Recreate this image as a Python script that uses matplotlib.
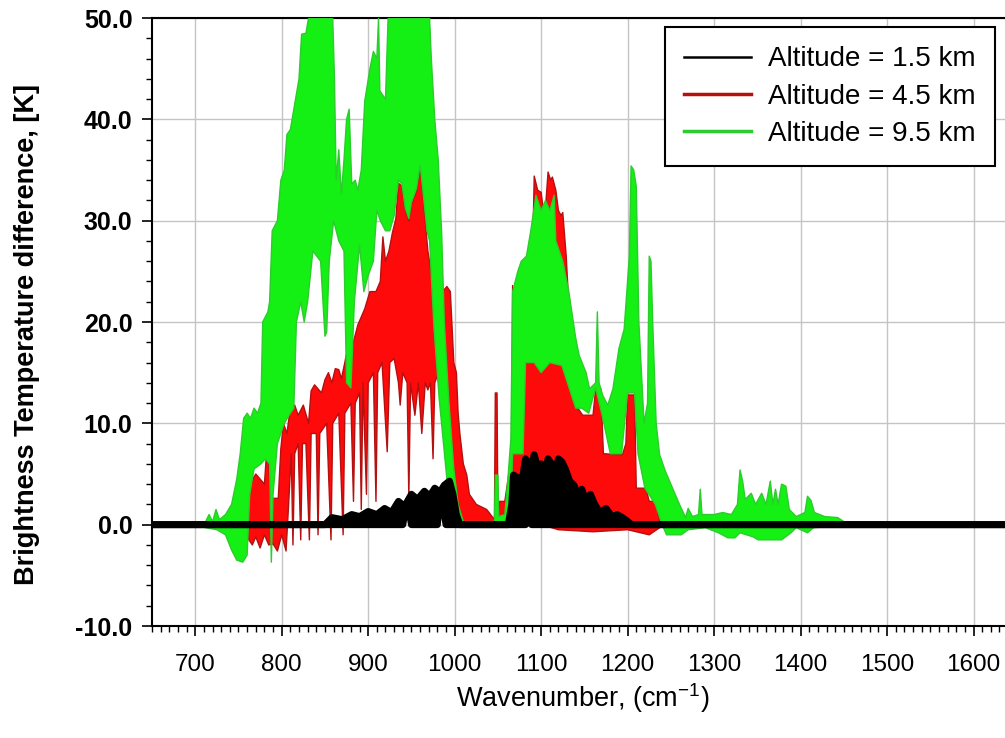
import matplotlib.pyplot as plt
from matplotlib.ticker import MultipleLocator, FormatStrFormatter

plt.rcParams['font.family'] = ['Liberation Sans', 'DejaVu Sans']
plt.rcParams['mathtext.default'] = 'regular'

# ---- data (wavenumber cm-1, BT difference K) ----
# each series drawn as the band between its upper and lower envelope
green_hi_wn = [712, 716, 720, 724, 728, 735, 742, 748, 752, 756, 760, 764, 768, 772, 776, 778, 784, 786,
               789, 795, 799, 803, 806, 810, 815, 820, 823, 828, 831, 859, 861, 863, 866, 869, 872, 875,
               878, 881, 885, 888, 892, 896, 902, 906, 910, 912, 913.5, 920, 923, 971, 973, 977, 981, 985,
               988, 993, 999, 1004, 1010, 1046, 1047, 1050, 1051, 1058, 1062, 1065, 1067, 1070, 1073,
               1077, 1083, 1088, 1094, 1100, 1105, 1110, 1115, 1117, 1125, 1132, 1140, 1144, 1152, 1156,
               1163, 1165, 1167, 1171, 1177, 1183, 1190, 1196, 1202, 1204, 1207, 1210, 1213, 1219, 1223,
               1225, 1227, 1229, 1233, 1237, 1244, 1252, 1260, 1267, 1270, 1275, 1282, 1284, 1286, 1300,
               1310, 1320, 1327, 1330, 1333, 1336, 1343, 1348, 1355, 1360, 1365, 1368, 1371, 1374, 1378,
               1383, 1387, 1395, 1405, 1408, 1412, 1416, 1428, 1443, 1450]
green_hi = [0.3, 1.0, 0.3, 1.5, 0.5, 1.0, 2.0, 4.5, 7.0, 10.5, 11.0, 10.5, 11.5, 11.0, 12.0, 20.0, 21.0, 22.0,
            29.0, 30.0, 34.0, 35.0, 38.5, 39.0, 41.5, 44.0, 48.4, 48.5, 50, 50, 44, 34, 37, 32.6, 36, 40,
            41, 33.6, 34, 33, 35, 41.8, 45, 46.7, 46, 50, 42.8, 42, 50, 50, 46, 40, 36, 28.7,
            20, 12.5, 5.5, 2.0, 0.3, 0.3, 4.9, 4.9, 0.8, 1.0, 5.0, 8.5, 23, 24, 25,
            26, 26.5, 29, 32.5, 31, 32, 31, 32.5, 28, 26, 23, 18.4, 16.7, 15, 13.4,
            14, 21, 14, 12.8, 11.8, 13.4, 17.4, 19.3, 26.5, 35.4, 35, 33.4, 20, 10, 12,
            26.5, 26, 20, 10, 6.9, 5.2, 3.6, 2.0, 0.7, 1.6, 0.8, 1.0, 3.5, 1.0, 1.0,
            1.2, 1.0, 2.0, 5.4, 4.3, 2.5, 3.1, 2.0, 3.1, 2.0, 4.3, 2.0, 3.5, 2.0, 4.0,
            3.8, 1.5, 0.8, 1.2, 2.8, 2.4, 1.2, 0.8, 0.7, 0.3]
green_lo_wn = [712, 725, 735, 742, 748, 755, 760, 763, 768, 776, 781, 786, 788, 790, 795, 803, 810, 814, 817,
               822, 826, 830, 836, 845, 850, 852, 855, 860, 866, 872, 875, 880, 884, 890, 895, 900, 906,
               910, 914, 920, 925, 930, 935, 939, 943, 947, 950, 956, 960, 963, 968, 971, 976, 982, 988,
               993, 999, 1010, 1046, 1051, 1060, 1065, 1067, 1079, 1082, 1092, 1100, 1110, 1124, 1140,
               1147, 1155, 1163, 1170, 1180, 1193, 1200, 1208, 1212, 1220, 1232, 1240, 1245, 1262, 1270,
               1290, 1305, 1316, 1324, 1330, 1345, 1351, 1378, 1389, 1395, 1408, 1415, 1450]
green_lo = [-0.3, -0.5, -1.0, -2.5, -3.5, -3.7, -3.0, 3.0, 5.5, 6.0, 6.5, 6.0, -3.7, 3.0, 8.0, 10.0, 11.0, 11.5, 20,
            22, 20, 22, 27, 26, 18.6, 19, 26, 30, 28, 27, 14, 13.5, 22, 27.6, 23, 24.6, 26,
            31, 30, 29, 29, 30.5, 34, 33.6, 31.2, 30.2, 31.8, 33.2, 35.5, 33.2, 29, 28, 19.6, 12.5, 7.2,
            2.7, 0.5, -0.2, 0, 0, 0.5, 2, 7, 7, 16, 16, 15, 16, 15.7, 11.5,
            11.5, 11, 13.5, 11, 7, 7, 13, 13, 7, 3.6, 2.0, 0, -1, -1, -0.5,
            -0.3, -0.8, -1.3, -1.3, -0.8, -1.2, -1.5, -1.5, -0.8, -0.3, -0.8, -0.3, -0.1]

red_hi_wn = [758, 761, 765, 770, 775, 780, 782, 785, 787, 796, 799, 802, 806, 810, 815, 819, 825, 831, 834,
             838, 846, 850, 854, 858, 862, 866, 869, 873, 877, 881, 888, 896, 902, 909, 914, 917, 920,
             924, 928, 932, 935, 939, 943, 947, 950, 956, 960, 963, 969, 975, 982, 984, 986, 991, 995,
             999, 1002, 1004, 1006, 1010, 1014, 1017, 1025, 1037, 1046, 1047, 1049, 1050, 1052, 1058,
             1063, 1066, 1067, 1068, 1072, 1078, 1080, 1083, 1086, 1090, 1092, 1096, 1100, 1104, 1108,
             1111, 1113, 1117, 1120, 1123, 1125, 1129, 1133, 1137, 1140, 1148, 1160, 1163, 1169, 1172,
             1194, 1198, 1200, 1208, 1210, 1221, 1225, 1233, 1237]
red_hi = [0, 5.6, 4.3, 5.0, 4.5, 4.0, 6.5, 6.2, 2.6, 2.6, 7.5, 10.0, 9.0, 11.5, 11.8, 10.8, 11.8, 10.0, 13.2,
          13.8, 13.0, 14.3, 15.0, 14.0, 15.4, 15.3, 14.4, 16.0, 17.8, 17.4, 19.7, 21.3, 23.0, 23.0, 24, 28.4, 26.0,
          27, 28.8, 30.2, 33.7, 33.4, 31.0, 30.0, 31.6, 33.0, 35.3, 33.0, 27.0, 23.9, 22.0, 27.4, 23.0, 23.5, 23.0,
          16.0, 15.0, 11, 9.0, 6.0, 4.9, 3.0, 2.0, 1.5, 0.5, 13.0, 13.0, 0.5, 2.3, 2.3,
          5.2, 8.0, 23.6, 12.0, 14.0, 18.0, 25.0, 25.5, 24.0, 26.0, 34.4, 33.0, 32.8, 30.0, 34.8,
          34.0, 34.3, 33.0, 31.0, 30.5, 30.8, 26.5, 20.0, 15.0, 11.8, 10.8, 10.8, 13.4, 13.4, 7.0,
          6.9, 8.0, 12.8, 12.8, 3.6, 3.6, 2.3, 2.3, 0.3]
red_lo_wn = [758, 762, 766, 770, 775, 780, 785, 790, 795, 800, 805, 808, 811, 813, 815, 819, 822, 824, 828,
             832, 834, 840, 842, 844, 852, 857, 859, 866, 871, 873, 880, 883, 885, 890, 892, 894, 898,
             900, 906, 909, 911, 916, 922, 925, 930, 935, 937, 940, 945, 947, 949, 954, 958, 962, 966,
             969, 972, 975, 977, 980, 984, 988, 991, 995, 999, 1005, 1040, 1058, 1065, 1100, 1120, 1160,
             1200, 1225, 1237]
red_lo = [0, -1.5, -2.0, -1.2, -2.3, -1.0, -2.0, -1.9, -2.6, -1.0, -2.6, 2.0, 7.0, -2.0, 7.0, 8.0, -1.5, 8.0, 8.0,
          -1.5, 9.0, 9.0, -1.0, 9.0, 10.0, -1.5, 10.0, 11.0, -1.0, 11.0, 12.0, 2.3, 12.0, 13.0, 1.5, 14.0, 3.0,
          14.0, 15.0, 2.3, 15.0, 16.0, 7.2, 16.0, 16.4, 14.0, 11.8, 15.0, 14.0, 2.6, 14.0, 10.8, 14.0, 9.0, 14.0,
          13.3, 14.0, 6.5, 14.0, 14.7, 13.0, 9.0, 12.0, 2.3, 0.5, 0.3, 0, 1.0, 0, 0, -0.5, -0.7,
          -0.5, -1.0, -0.3]

black_hi_wn = [650, 850, 858, 870, 881, 890, 900, 910, 919, 927, 935, 942, 950, 957, 965, 971, 977, 983, 988,
               994, 998, 1002, 1006, 1062, 1066, 1068, 1075, 1079, 1082, 1088, 1092, 1096, 1100, 1104, 1108,
               1112, 1116, 1120, 1124, 1128, 1133, 1138, 1142, 1147, 1152, 1157, 1162, 1168, 1175, 1182,
               1188, 1194, 1205, 1700]
black_hi = [0, 0, 0.7, 0.5, 1.0, 0.8, 1.3, 1.0, 1.6, 1.2, 2.3, 1.8, 3.0, 2.5, 3.3, 2.8, 3.6, 3.2, 3.9,
            4.3, 3.0, 1.0, 0, 0, 2.0, 4.9, 4.5, 4.9, 6.5, 5.5, 6.9, 5.6, 6.0, 5.2, 6.5,
            6.0, 5.2, 6.5, 6.2, 5.5, 4.3, 3.9, 3.0, 3.5, 2.3, 3.0, 2.0, 1.2, 1.6, 0.8,
            1.0, 0.7, 0, 0]
black_lo_wn = [650, 940, 942, 948, 950, 980, 981, 988, 990, 1082, 1084, 1087, 1089, 1700]
black_lo = [0, 0, 1.0, 1.0, 0, 0, 1.0, 1.0, 0, 0, 2.0, 2.0, 0, 0]

labels = ['Altitude = 1.5 km', 'Altitude = 4.5 km', 'Altitude = 9.5 km']
x_ticks = [700, 800, 900, 1000, 1100, 1200, 1300, 1400, 1500, 1600]

fig = plt.figure(figsize=(10.05, 7.38), dpi=100)
ax = fig.add_axes([152 / 1005, 112 / 738, 908 / 1005, 608 / 738])


def band(wn_hi, hi, wn_lo, lo, face, edge, lw, z, label):
    ax.fill(wn_hi + wn_lo[::-1], hi + lo[::-1], color=face, lw=0, zorder=z)
    line, = ax.plot(wn_hi, hi, color=edge, lw=lw, zorder=z, label=label)
    ax.plot(wn_lo, lo, color=edge, lw=lw, zorder=z)
    return line


h_red = band(red_hi_wn, red_hi, red_lo_wn, red_lo, '#ff0a0a', '#b41010', 1.0, 2, labels[1])
h_green = band(green_hi_wn, green_hi, green_lo_wn, green_lo, '#14f014', '#2ccc2c', 1.0, 3, labels[2])
h_black = band(black_hi_wn, black_hi, black_lo_wn, black_lo, 'black', 'black', 5.0, 4, labels[0])

ax.set_xlim(650, 1700)
ax.set_ylim(-10, 50)
ax.set_xticks(x_ticks)
ax.xaxis.set_minor_locator(MultipleLocator(10))
ax.yaxis.set_major_locator(MultipleLocator(10))
ax.yaxis.set_minor_locator(MultipleLocator(2))
ax.yaxis.set_major_formatter(FormatStrFormatter('%.1f'))
ax.tick_params(which='major', direction='out', length=7, width=1.2, pad=7)
ax.tick_params(which='minor', direction='out', length=4, width=1)
ax.tick_params(axis='x', which='major', pad=13, labelsize=17.5)
ax.tick_params(axis='y', which='major', labelsize=18)
for t in ax.get_yticklabels():
    t.set_fontweight('bold')

ax.grid(True, which='major', color='#c4c4c4', lw=1)
ax.set_axisbelow(True)
for s in ax.spines.values():
    s.set_linewidth(1.5)

ax.set_ylabel('Brightness Temperature difference, [K]', fontsize=19.5, fontweight='bold')
ax.yaxis.set_label_coords(-0.123, 0.479)
ax.set_xlabel('Wavenumber, (cm$^{-1}$)', fontsize=19.5)
ax.xaxis.set_label_coords(0.474, -0.09)

leg = ax.legend(handles=[h_black, h_red, h_green], loc='upper left',
                bbox_to_anchor=(665 / 1005, 1 - 27 / 738), bbox_transform=fig.transFigure,
                fontsize=20, frameon=True, fancybox=False, edgecolor='black', framealpha=1,
                borderpad=0.7, labelspacing=0.4, handlelength=2.4, handletextpad=0.6, borderaxespad=0)
leg.get_frame().set_linewidth(1.5)
leg_lw = [1.8, 2.5, 2.5]
for ln, w in zip(leg.get_lines(), leg_lw):
    ln.set_linewidth(w)

fig.savefig('out.png', dpi=100)
